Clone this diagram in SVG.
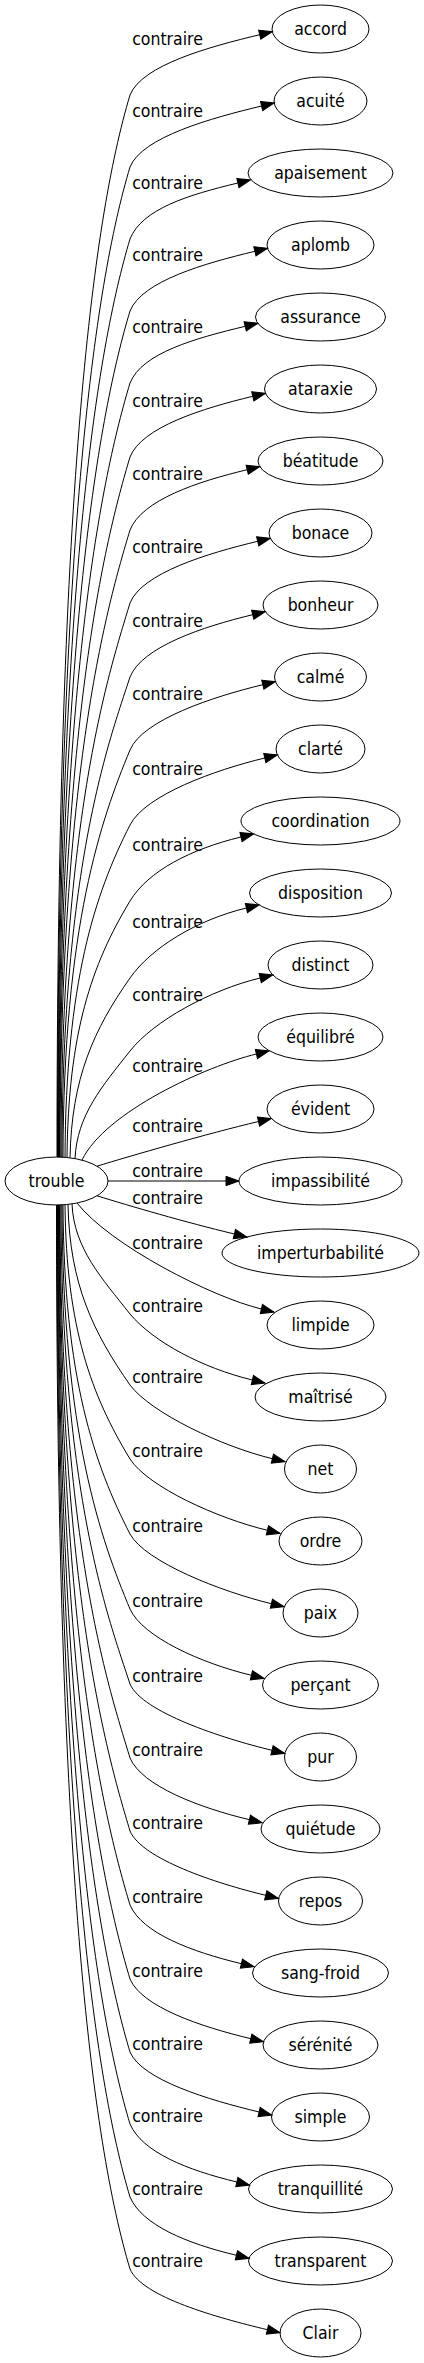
<svg xmlns="http://www.w3.org/2000/svg" width="424" height="2363" viewBox="0 0 424 2363">
<defs>
<style>
.node ellipse{fill:none;stroke:#000;stroke-width:1}
text{font-family:"DejaVu Sans Condensed","DejaVu Sans",sans-serif;font-stretch:condensed;font-size:17.5px;fill:#000;text-anchor:middle}
.edge path{fill:none;stroke:#000;stroke-width:1;marker-end:url(#arr)}
</style>
<marker id="arr" markerUnits="userSpaceOnUse" markerWidth="14" markerHeight="9.4" viewBox="0 0 14 9.4" refX="0" refY="4.7" orient="auto" overflow="visible">
<path d="M0,0 L13,4.7 L0,9.4 Z" fill="#000" stroke="#000" stroke-width="1"/>
</marker>
</defs>
<rect width="424" height="2363" fill="#fff"/>
<g id="edges">
<g class="edge"><path d="M57,1157.1 C57,498.6 91.8,222.5 130,95 C142,65 209.7,46.7 259.7,34.7"/><text x="167.5" y="45">contraire</text></g>
<g class="edge"><path d="M57.5,1157.1 C57.5,543.2 94.4,285.8 130,167 C142,137 211.6,118 261.6,106"/><text x="167.5" y="117">contraire</text></g>
<g class="edge"><path d="M58,1157.1 C58,587.9 97,349.2 130,239 C142,209 187.9,195 237.9,183"/><text x="167.5" y="189">contraire</text></g>
<g class="edge"><path d="M58.5,1157.1 C58.5,632.5 99.5,412.5 130,311 C142,281 204.9,263.3 254.9,251.3"/><text x="167.5" y="261">contraire</text></g>
<g class="edge"><path d="M59,1157.1 C59,677.1 102.1,475.9 130,383 C142,353 195.2,338.3 245.2,326.3"/><text x="167.5" y="333">contraire</text></g>
<g class="edge"><path d="M59.5,1157.1 C59.5,723 104.8,541 130,457 C142,427 202.8,408.3 252.8,396.3"/><text x="167.5" y="407">contraire</text></g>
<g class="edge"><path d="M60,1157.1 C60,768.3 107.4,605.3 130,530 C142,500 197.2,481.7 247.2,469.7"/><text x="167.5" y="480">contraire</text></g>
<g class="edge"><path d="M61,1157.1 C61,813.6 110,669.5 130,603 C142,573 207.7,553.3 257.7,541.3"/><text x="167.5" y="553">contraire</text></g>
<g class="edge"><path d="M62,1157.1 C62.1,864.7 109.6,739.7 130,677 C142,647 202.7,626.7 252.7,614.7"/><text x="167.5" y="627">contraire</text></g>
<g class="edge"><path d="M63,1157.2 C63.5,925.5 101.4,818.7 130,750 C142.5,720 212.8,696.7 262.8,684.7"/><text x="167.5" y="700">contraire</text></g>
<g class="edge"><path d="M65,1157.3 C65.8,981.8 94.8,894.1 130,825 C145.3,795 214.8,770 264.8,758"/><text x="167.5" y="775">contraire</text></g>
<g class="edge"><path d="M67,1157.5 C68.2,1032.8 91.6,964.6 130,901 C148.1,871 191,849 241,837"/><text x="167.5" y="851">contraire</text></g>
<g class="edge"><path d="M70,1157.8 C71.6,1078 93.7,1029.8 130,978 C151,948 196.4,920 246.4,908"/><text x="167.5" y="928">contraire</text></g>
<g class="edge"><path d="M75,1158.6 C77,1115.1 102.3,1086.1 130,1051 C153.7,1021 210.2,990 260.2,978"/><text x="167.5" y="1001">contraire</text></g>
<g class="edge"><path d="M82,1160.1 C105,1112 206.4,1066 256.4,1054"/><text x="167.5" y="1072">contraire</text></g>
<g class="edge"><path d="M97,1166.2 C130,1156 208,1133.5 258.5,1121.5"/><text x="167.5" y="1132">contraire</text></g>
<g class="edge"><path d="M108,1181 L226,1181"/><text x="167.5" y="1177">contraire</text></g>
<g class="edge"><path d="M97,1195.8 C130,1206 184.4,1222 234.4,1234"/><text x="167.5" y="1204">contraire</text></g>
<g class="edge"><path d="M77,1203 C110,1245 211.4,1297 261.4,1309"/><text x="167.5" y="1249">contraire</text></g>
<g class="edge"><path d="M72,1203.9 C73.95,1248.5 101.9,1278.25 130,1314 C153.6,1342 202.4,1368 252.4,1380"/><text x="167.5" y="1312">contraire</text></g>
<g class="edge"><path d="M68,1204.4 C69.6,1284.6 93.7,1333 130,1385 C151,1413 222.4,1446.7 272.4,1458.7"/><text x="167.5" y="1383">contraire</text></g>
<g class="edge"><path d="M65,1204.7 C66.2,1328 91.6,1395.7 130,1459 C148.2,1487 217.4,1518.3 267.4,1530.3"/><text x="167.5" y="1457">contraire</text></g>
<g class="edge"><path d="M63,1204.8 C63.9,1378 94.6,1465 130,1534 C145.4,1562 221.4,1591.7 271.4,1603.7"/><text x="167.5" y="1532">contraire</text></g>
<g class="edge"><path d="M62,1204.9 C62.5,1434 101.1,1540.1 130,1609 C142.6,1637 201.4,1663.3 251.4,1675.3"/><text x="167.5" y="1607">contraire</text></g>
<g class="edge"><path d="M61,1204.9 C61.1,1496.5 109.5,1621.2 130,1684 C142,1712 222,1738.3 272,1750.3"/><text x="167.5" y="1682">contraire</text></g>
<g class="edge"><path d="M60,1204.9 C60,1547.8 110.1,1691.6 130,1758 C142,1786 199.4,1807.7 249.4,1819.7"/><text x="167.5" y="1756">contraire</text></g>
<g class="edge"><path d="M59.5,1204.9 C59.5,1593.1 107.5,1755.9 130,1831 C142,1859 215.7,1883.3 265.7,1895.3"/><text x="167.5" y="1829">contraire</text></g>
<g class="edge"><path d="M59,1204.9 C59,1639 104.8,1821 130,1905 C142,1933 191.4,1951.7 241.4,1963.7"/><text x="167.5" y="1903">contraire</text></g>
<g class="edge"><path d="M58.5,1204.9 C58.5,1684.9 102.1,1886.1 130,1979 C142,2007 200.8,2026.7 250.8,2038.7"/><text x="167.5" y="1977">contraire</text></g>
<g class="edge"><path d="M58,1204.9 C58,1730.1 99.5,1950.3 130,2052 C142,2080 209.1,2100 259.1,2112"/><text x="167.5" y="2050">contraire</text></g>
<g class="edge"><path d="M57.5,1204.9 C57.5,1774.7 96.9,2013.7 130,2124 C142,2152 186.9,2170 236.9,2182"/><text x="167.5" y="2122">contraire</text></g>
<g class="edge"><path d="M57,1204.9 C57,1820 94.3,2077.9 130,2197 C142,2225 186.4,2243.3 236.4,2255.3"/><text x="167.5" y="2195">contraire</text></g>
<g class="edge"><path d="M56.5,1204.9 C56.5,1864.6 91.7,2141.3 130,2269 C142,2297 217.4,2317.7 267.4,2329.7"/><text x="167.5" y="2267">contraire</text></g>
</g>
<g id="trouble" class="node"><ellipse cx="56.5" cy="1181" rx="51.5" ry="24"/><text x="56.5" y="1187">trouble</text></g>
<g id="accord" class="node"><ellipse cx="320.5" cy="29" rx="48.5" ry="24"/><text x="320.5" y="35">accord</text></g>
<g id="acuite" class="node"><ellipse cx="320.5" cy="101" rx="46.5" ry="24"/><text x="320.5" y="107">acuité</text></g>
<g id="apaisement" class="node"><ellipse cx="320.5" cy="173" rx="72.5" ry="24"/><text x="320.5" y="179">apaisement</text></g>
<g id="aplomb" class="node"><ellipse cx="320.5" cy="245" rx="53.5" ry="24"/><text x="320.5" y="251">aplomb</text></g>
<g id="assurance" class="node"><ellipse cx="320.5" cy="317" rx="65" ry="24"/><text x="320.5" y="323">assurance</text></g>
<g id="ataraxie" class="node"><ellipse cx="320.5" cy="389" rx="56" ry="24"/><text x="320.5" y="395">ataraxie</text></g>
<g id="beatitude" class="node"><ellipse cx="320.5" cy="461" rx="62.5" ry="24"/><text x="320.5" y="467">béatitude</text></g>
<g id="bonace" class="node"><ellipse cx="320.5" cy="533" rx="51.5" ry="24"/><text x="320.5" y="539">bonace</text></g>
<g id="bonheur" class="node"><ellipse cx="320.5" cy="605" rx="57.5" ry="24"/><text x="320.5" y="611">bonheur</text></g>
<g id="calme" class="node"><ellipse cx="320.5" cy="677" rx="46" ry="24"/><text x="320.5" y="683">calmé</text></g>
<g id="clarte" class="node"><ellipse cx="320.5" cy="749" rx="44.5" ry="24"/><text x="320.5" y="755">clarté</text></g>
<g id="coordination" class="node"><ellipse cx="320.5" cy="821" rx="79.5" ry="24"/><text x="320.5" y="827">coordination</text></g>
<g id="disposition" class="node"><ellipse cx="320.5" cy="893" rx="71" ry="24"/><text x="320.5" y="899">disposition</text></g>
<g id="distinct" class="node"><ellipse cx="320.5" cy="965" rx="52.5" ry="24"/><text x="320.5" y="971">distinct</text></g>
<g id="equilibre" class="node"><ellipse cx="320.5" cy="1037" rx="62.5" ry="24"/><text x="320.5" y="1043">équilibré</text></g>
<g id="evident" class="node"><ellipse cx="320.5" cy="1109" rx="53.5" ry="24"/><text x="320.5" y="1115">évident</text></g>
<g id="impassibilite" class="node"><ellipse cx="320.5" cy="1181" rx="81.5" ry="24"/><text x="320.5" y="1187">impassibilité</text></g>
<g id="imperturbabilite" class="node"><ellipse cx="320.5" cy="1253" rx="98.5" ry="24"/><text x="320.5" y="1259">imperturbabilité</text></g>
<g id="limpide" class="node"><ellipse cx="320.5" cy="1325" rx="53.5" ry="24"/><text x="320.5" y="1331">limpide</text></g>
<g id="maitrise" class="node"><ellipse cx="320.5" cy="1397" rx="65.5" ry="24"/><text x="320.5" y="1403">maîtrisé</text></g>
<g id="net" class="node"><ellipse cx="320.5" cy="1469" rx="36" ry="24"/><text x="320.5" y="1475">net</text></g>
<g id="ordre" class="node"><ellipse cx="320.5" cy="1541" rx="41.5" ry="24"/><text x="320.5" y="1547">ordre</text></g>
<g id="paix" class="node"><ellipse cx="320.5" cy="1613" rx="37.5" ry="24"/><text x="320.5" y="1619">paix</text></g>
<g id="percant" class="node"><ellipse cx="320.5" cy="1685" rx="58" ry="24"/><text x="320.5" y="1691">perçant</text></g>
<g id="pur" class="node"><ellipse cx="320.5" cy="1757" rx="36" ry="24"/><text x="320.5" y="1763">pur</text></g>
<g id="quietude" class="node"><ellipse cx="320.5" cy="1829" rx="59.5" ry="24"/><text x="320.5" y="1835">quiétude</text></g>
<g id="repos" class="node"><ellipse cx="320.5" cy="1901" rx="42" ry="24"/><text x="320.5" y="1907">repos</text></g>
<g id="sang-froid" class="node"><ellipse cx="320.5" cy="1973" rx="68" ry="24"/><text x="320.5" y="1979">sang-froid</text></g>
<g id="serenite" class="node"><ellipse cx="320.5" cy="2045" rx="57.5" ry="24"/><text x="320.5" y="2051">sérénité</text></g>
<g id="simple" class="node"><ellipse cx="320.5" cy="2117" rx="49" ry="24"/><text x="320.5" y="2123">simple</text></g>
<g id="tranquillite" class="node"><ellipse cx="320.5" cy="2189" rx="72" ry="24"/><text x="320.5" y="2195">tranquillité</text></g>
<g id="transparent" class="node"><ellipse cx="320.5" cy="2261" rx="72" ry="24"/><text x="320.5" y="2267">transparent</text></g>
<g id="Clair" class="node"><ellipse cx="320.5" cy="2333" rx="40.5" ry="24"/><text x="320.5" y="2339">Clair</text></g>
</svg>
